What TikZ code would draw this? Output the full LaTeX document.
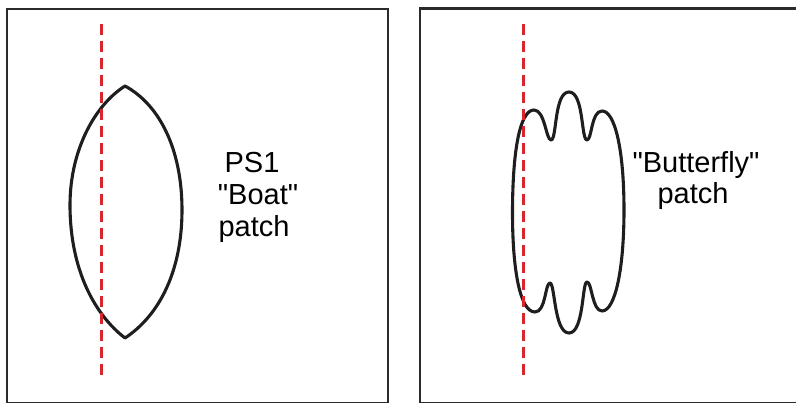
\documentclass[tikz,border=0pt]{standalone}
\usepackage{fontspec}
\newfontfamily\lblfont{Liberation Sans}
\definecolor{boxgray}{HTML}{2B2B2B}
\definecolor{shapeblk}{HTML}{1E1E1E}
\definecolor{axisred}{HTML}{D7262E}
\tikzset{
  panel/.style={draw=boxgray, line width=2.9pt},
  patchline/.style={draw=shapeblk, line width=3.1pt, line join=round},
  axisline/.style={draw=axisred, line width=3pt, dash pattern=on 11pt off 6pt},
  lbl/.style={inner sep=0pt, anchor=base, font=\lblfont\fontsize{29}{32}\selectfont, text=black}
}
\begin{document}
\begin{tikzpicture}[x=1pt,y=-1pt]
\useasboundingbox (0,0) rectangle (796,403);
% panels
\draw[panel] (7,9) rectangle (388,403.2);
\draw[panel] (420,8.5) rectangle (802,403.2);

% boat patch
\draw[patchline] (125,86) .. controls (95,105) and (70,150) .. (70,205)
  .. controls (70,270) and (95,315) .. (125,338)
  .. controls (160,315) and (182,270) .. (182,210)
  .. controls (182,150) and (160,105) .. (125,86) -- cycle;

% butterfly patch
\draw[patchline] (512.5,213) .. controls (512.5,150) and (520,110) .. (534,110)
  .. controls (545,110) and (546,140) .. (551,140)
  .. controls (557,140) and (554,92) .. (569,92)
  .. controls (584,92) and (581,140) .. (587,140)
  .. controls (592,140) and (591,111) .. (602,111)
  .. controls (615,111) and (624,150) .. (624,210)
  .. controls (624,270) and (615,311) .. (602,311)
  .. controls (592,311) and (592,282) .. (587,282)
  .. controls (582,282) and (584,333) .. (569,333)
  .. controls (554,333) and (555,283) .. (550,283)
  .. controls (545,283) and (546,312) .. (535,312)
  .. controls (520,312) and (512.5,270) .. (512.5,213) -- cycle;

% red axis lines
\coordinate (a1) at (101,24);
\coordinate (b1) at (101,380);
\coordinate (a2) at (523,24);
\coordinate (b2) at (523,380);
\draw[axisline] (a1) -- (b1);
\draw[axisline] (a2) -- (b2);

% labels
\node[lbl] (ps1) at (252,173) {PS1};
\node[lbl] (boat) at (258,205) {"Boat"};
\node[lbl] (patch1) at (254,237) {patch};
\node[lbl] (bfly) at (696,173) {"Butterfly"};
\node[lbl] (patch2) at (693,204) {patch};
\end{tikzpicture}
\end{document}
